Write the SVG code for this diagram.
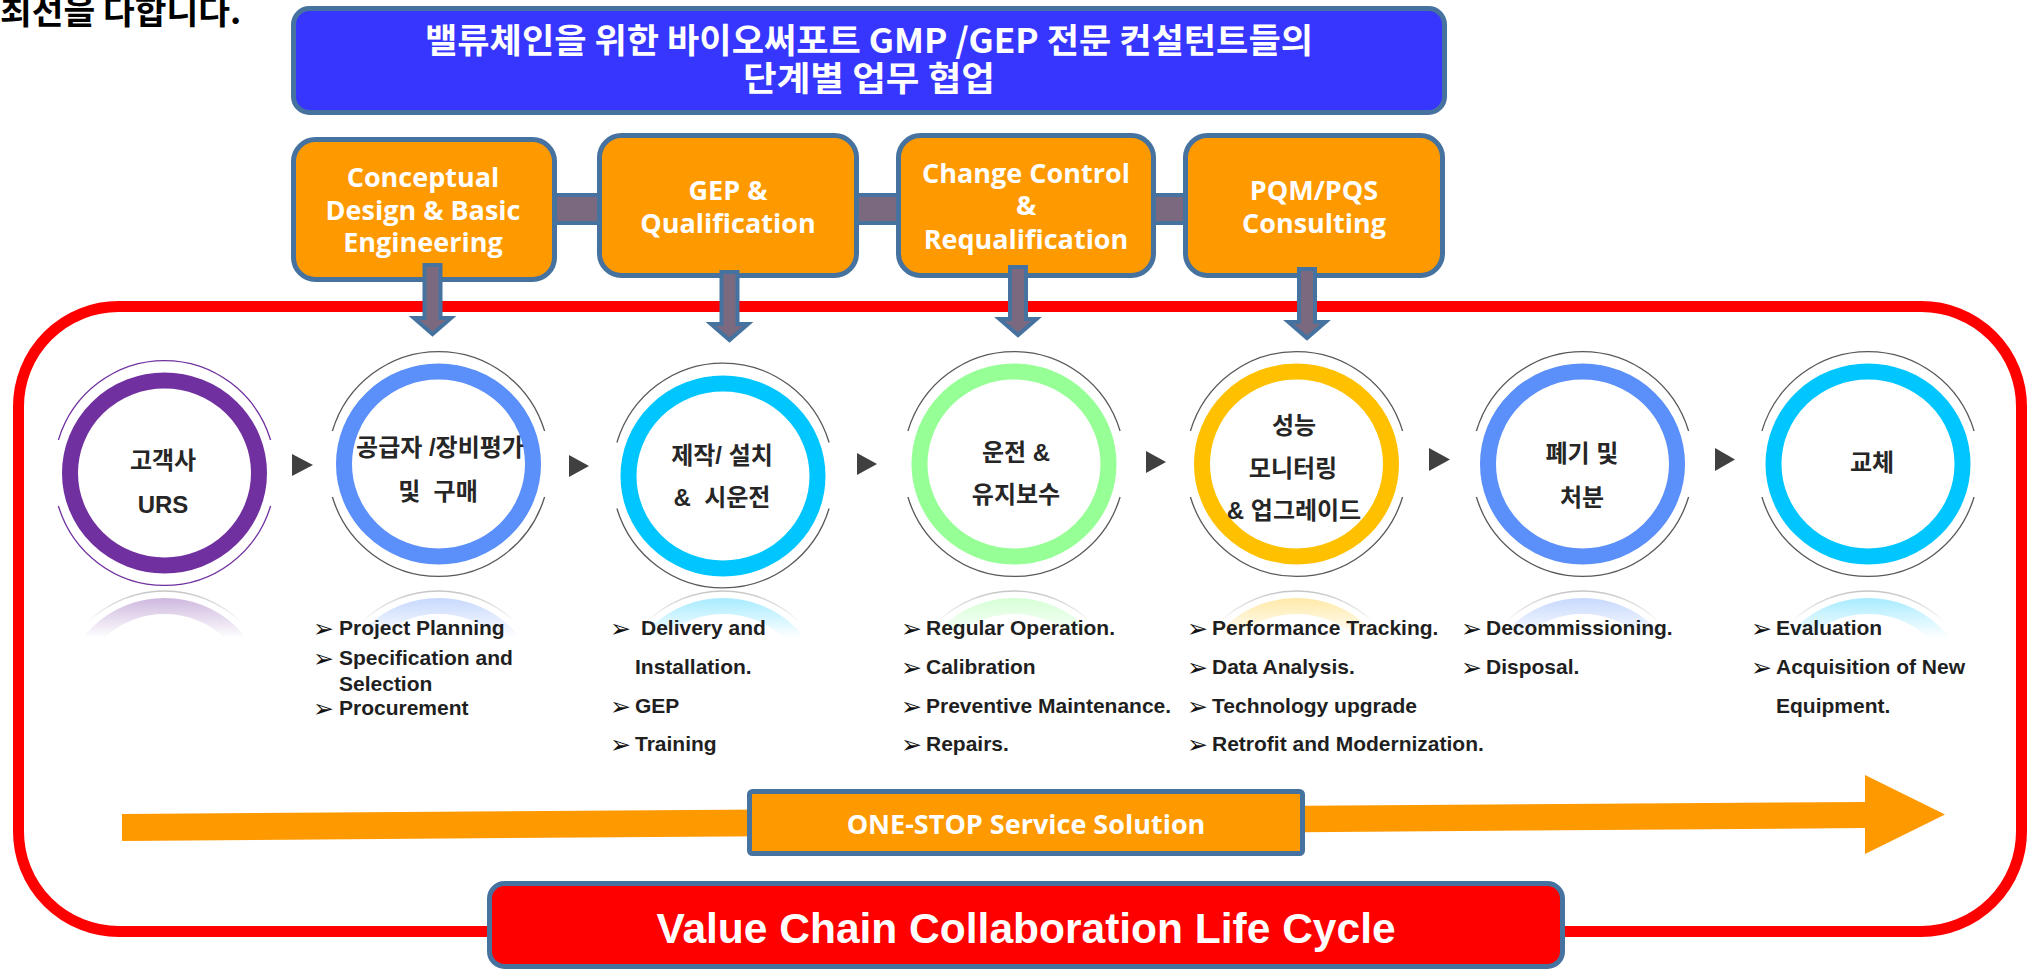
<svg xmlns="http://www.w3.org/2000/svg" width="2028" height="969" viewBox="0 0 2028 969">
<style>
.kt{font-family:"Noto Sans CJK KR",sans-serif;font-weight:700}
.title{font-size:34px;fill:#fff;text-anchor:middle}
.obox{fill:#FF9900;stroke:#4672A0;stroke-width:5}
.otext{font-family:"Open Sans","Noto Sans",sans-serif;font-weight:700;fill:#fff;font-size:27px;text-anchor:middle}
.bar{fill:#7B6A7F;stroke:#4672A0;stroke-width:4}
.darrow{fill:#7B6A7F;stroke:#4672A0;stroke-width:4;stroke-linejoin:miter}
.ring{fill:#fff;stroke-width:16}
.halo{fill:none;stroke-width:1.3}
.refl{fill:none;stroke-width:16}
.reflh{fill:none;stroke-width:1.5;stroke:url(#gHalo)}
.ctext{font-family:"Liberation Sans","Noto Sans CJK KR",sans-serif;font-weight:700;fill:#262626;font-size:24px;text-anchor:middle}
.list{font-family:"Liberation Sans",Arial,sans-serif;font-weight:700;fill:#1F1F1F;font-size:21px}
.bul{font-family:"DejaVu Sans",sans-serif;font-size:25px;fill:#111}
.tri{fill:#404040}
</style>
<defs>
<path id="halo" d="M-106.1,-33 A111,112.5 0 0 1 106.1,-33 M-106.1,33 A111,112.5 0 0 0 106.1,33"/>
<linearGradient id="gPurple" gradientUnits="userSpaceOnUse" x1="0" y1="597" x2="0" y2="638"><stop offset="0" stop-color="#7030A0" stop-opacity="0.35"/><stop offset="1" stop-color="#7030A0" stop-opacity="0"/></linearGradient>
<linearGradient id="gBlue" gradientUnits="userSpaceOnUse" x1="0" y1="597" x2="0" y2="638"><stop offset="0" stop-color="#5B8FF9" stop-opacity="0.35"/><stop offset="1" stop-color="#5B8FF9" stop-opacity="0"/></linearGradient>
<linearGradient id="gCyan" gradientUnits="userSpaceOnUse" x1="0" y1="597" x2="0" y2="638"><stop offset="0" stop-color="#00C6FF" stop-opacity="0.35"/><stop offset="1" stop-color="#00C6FF" stop-opacity="0"/></linearGradient>
<linearGradient id="gGreen" gradientUnits="userSpaceOnUse" x1="0" y1="597" x2="0" y2="638"><stop offset="0" stop-color="#96FF96" stop-opacity="0.4"/><stop offset="1" stop-color="#96FF96" stop-opacity="0"/></linearGradient>
<linearGradient id="gAmber" gradientUnits="userSpaceOnUse" x1="0" y1="597" x2="0" y2="638"><stop offset="0" stop-color="#FFC000" stop-opacity="0.35"/><stop offset="1" stop-color="#FFC000" stop-opacity="0"/></linearGradient>
<linearGradient id="gHalo" gradientUnits="userSpaceOnUse" x1="0" y1="589" x2="0" y2="622"><stop offset="0" stop-color="#999" stop-opacity="0.6"/><stop offset="1" stop-color="#999" stop-opacity="0"/></linearGradient>
</defs>
<rect width="2028" height="969" fill="#fff"/>

<text class="kt" x="0" y="24" font-size="34.5" fill="#000">최선을 다합니다.</text>

<!-- lifecycle frame -->
<rect id="frame" x="18.5" y="306.5" width="2003" height="625" rx="100" ry="100" fill="none" stroke="#FF0000" stroke-width="11"/>

<!-- title -->
<g id="title">
<rect x="293.5" y="8.5" width="1151" height="104" rx="16" ry="16" fill="#3636FF" stroke="#4672A0" stroke-width="5"/>
<text class="kt title" x="869" y="53" textLength="888" lengthAdjust="spacingAndGlyphs">밸류체인을 위한 바이오써포트 GMP /GEP 전문 컨설턴트들의</text>
<text class="kt title" x="869" y="91" textLength="252" lengthAdjust="spacingAndGlyphs">단계별 업무 협업</text>
</g>

<!-- connectors -->
<g id="connectors">
<rect class="bar" x="553" y="195" width="48" height="28"/>
<rect class="bar" x="855" y="195" width="46" height="28"/>
<rect class="bar" x="1152" y="195" width="36" height="28"/>
<polygon class="tri" points="292,454 313,465 292,476"/>
<polygon class="tri" points="569,455 589,466 569,477"/>
<polygon class="tri" points="857,453 877,464 857,475"/>
<polygon class="tri" points="1146,451 1166,462 1146,473"/>
<polygon class="tri" points="1429,448 1450,459.5 1429,471"/>
<polygon class="tri" points="1715,448 1735,459.5 1715,471"/>
<polygon id="onestop-arrow" points="122,814 1865,802 1865,775 1945,814.5 1865,854 1865,828 122,841" fill="#FF9900"/>
</g>

<!-- orange stage boxes -->
<g id="box-conceptual">
<rect class="obox" x="293.5" y="139.5" width="261" height="140" rx="22" ry="22"/>
<text class="otext" x="423" y="187">Conceptual</text>
<text class="otext" x="423" y="220">Design &amp; Basic</text>
<text class="otext" x="423" y="252">Engineering</text>
</g>
<g id="box-gep">
<rect class="obox" x="599.5" y="135.5" width="257" height="140" rx="22" ry="22"/>
<text class="otext" x="728" y="200">GEP &amp;</text>
<text class="otext" x="728" y="233">Qualification</text>
</g>
<g id="box-change">
<rect class="obox" x="898.5" y="135.5" width="255" height="140" rx="22" ry="22"/>
<text class="otext" x="1026" y="183">Change Control</text>
<text class="otext" x="1026" y="215">&amp;</text>
<text class="otext" x="1026" y="249">Requalification</text>
</g>
<g id="box-pqm">
<rect class="obox" x="1185.5" y="135.5" width="257" height="140" rx="22" ry="22"/>
<text class="otext" x="1314" y="200">PQM/PQS</text>
<text class="otext" x="1314" y="233">Consulting</text>
</g>

<!-- down arrows (drawn over boxes and frame) -->
<g id="down-arrows">
<polygon class="darrow" points="424.5,265 440.5,265 440.5,318 451,318 432.5,334 414,318 424.5,318"/>
<polygon class="darrow" points="721.5,272 737.5,272 737.5,324 748,324 729.5,340 711,324 721.5,324"/>
<polygon class="darrow" points="1010,267 1026,267 1026,319 1036.5,319 1018,335 999.5,319 1010,319"/>
<polygon class="darrow" points="1299,269 1315,269 1315,322 1325.5,322 1307,338 1288.5,322 1299,322"/>
</g>

<!-- circles -->
<g id="stage-urs">
<use href="#halo" x="164.5" y="473" class="halo" stroke="#7030A0"/>
<ellipse class="ring" cx="164.5" cy="473" rx="94.5" ry="92.5" stroke="#7030A0"/>
<ellipse class="reflh" cx="164.5" cy="703.5" rx="111" ry="112.5"/>
<ellipse class="refl" cx="164.5" cy="698.5" rx="94.5" ry="92.5" stroke="url(#gPurple)"/>
<text class="ctext" x="163" y="468.5">고객사</text>
<text class="ctext" x="163" y="513">URS</text>
</g>
<g id="stage-supplier">
<use href="#halo" x="438.5" y="464" class="halo" stroke="#595959"/>
<ellipse class="ring" cx="438.5" cy="464" rx="94.5" ry="92.5" stroke="#5B8FF9"/>
<ellipse class="reflh" cx="438.5" cy="703.5" rx="111" ry="112.5"/>
<ellipse class="refl" cx="438.5" cy="698.5" rx="94.5" ry="92.5" stroke="url(#gBlue)"/>
<text class="ctext" x="440" y="455.5" xml:space="preserve">공급자 /장비평가</text>
<text class="ctext" x="438" y="499.5" xml:space="preserve">및  구매</text>
</g>
<g id="stage-install">
<use href="#halo" x="723" y="475.5" class="halo" stroke="#595959"/>
<ellipse class="ring" cx="723" cy="476" rx="94.5" ry="92.5" stroke="#00C6FF"/>
<ellipse class="reflh" cx="723" cy="703.5" rx="111" ry="112.5"/>
<ellipse class="refl" cx="723" cy="698.5" rx="94.5" ry="92.5" stroke="url(#gCyan)"/>
<text class="ctext" x="722" y="463.5">제작/ 설치</text>
<text class="ctext" x="722" y="505.5" xml:space="preserve">&amp;  시운전</text>
</g>
<g id="stage-operation">
<use href="#halo" x="1014" y="464" class="halo" stroke="#595959"/>
<ellipse class="ring" cx="1014" cy="464" rx="94.5" ry="92.5" stroke="#96FF96"/>
<ellipse class="reflh" cx="1014" cy="703.5" rx="111" ry="112.5"/>
<ellipse class="refl" cx="1014" cy="698.5" rx="94.5" ry="92.5" stroke="url(#gGreen)"/>
<text class="ctext" x="1016" y="460.5">운전 &amp;</text>
<text class="ctext" x="1016" y="502.5">유지보수</text>
</g>
<g id="stage-monitoring">
<use href="#halo" x="1296.5" y="464" class="halo" stroke="#595959"/>
<ellipse class="ring" cx="1296.5" cy="464" rx="94.5" ry="92.5" stroke="#FFC000"/>
<ellipse class="reflh" cx="1296.5" cy="703.5" rx="111" ry="112.5"/>
<ellipse class="refl" cx="1296.5" cy="698.5" rx="94.5" ry="92.5" stroke="url(#gAmber)"/>
<text class="ctext" x="1294" y="433.5">성능</text>
<text class="ctext" x="1293" y="476.5">모니터링</text>
<text class="ctext" x="1294" y="519">&amp; 업그레이드</text>
</g>
<g id="stage-disposal">
<use href="#halo" x="1582.5" y="464" class="halo" stroke="#595959"/>
<ellipse class="ring" cx="1582.5" cy="464" rx="94.5" ry="92.5" stroke="#5B8FF9"/>
<ellipse class="reflh" cx="1582.5" cy="703.5" rx="111" ry="112.5"/>
<ellipse class="refl" cx="1582.5" cy="698.5" rx="94.5" ry="92.5" stroke="url(#gBlue)"/>
<text class="ctext" x="1582" y="461.5">폐기 및</text>
<text class="ctext" x="1582" y="505.5">처분</text>
</g>
<g id="stage-replace">
<use href="#halo" x="1868" y="464" class="halo" stroke="#595959"/>
<ellipse class="ring" cx="1868" cy="464" rx="94.5" ry="92.5" stroke="#00C6FF"/>
<ellipse class="reflh" cx="1868" cy="703.5" rx="111" ry="112.5"/>
<ellipse class="refl" cx="1868" cy="698.5" rx="94.5" ry="92.5" stroke="url(#gCyan)"/>
<text class="ctext" x="1872" y="470.5">교체</text>
</g>

<!-- bullet lists -->
<g id="list-supplier">
<text class="bul" x="313" y="637">➢</text><text class="list" x="339" y="635">Project Planning</text>
<text class="bul" x="313" y="667">➢</text><text class="list" x="339" y="665">Specification and</text>
<text class="list" x="339" y="691">Selection</text>
<text class="bul" x="313" y="717">➢</text><text class="list" x="339" y="715">Procurement</text>
</g>
<g id="list-install">
<text class="bul" x="610" y="637">➢</text><text class="list" x="641" y="635">Delivery and</text>
<text class="list" x="635" y="674">Installation.</text>
<text class="bul" x="610" y="715">➢</text><text class="list" x="635" y="713">GEP</text>
<text class="bul" x="610" y="753">➢</text><text class="list" x="635" y="751">Training</text>
</g>
<g id="list-operation">
<text class="bul" x="901" y="637">➢</text><text class="list" x="926" y="635">Regular Operation.</text>
<text class="bul" x="901" y="676">➢</text><text class="list" x="926" y="674">Calibration</text>
<text class="bul" x="901" y="715">➢</text><text class="list" x="926" y="713">Preventive Maintenance.</text>
<text class="bul" x="901" y="753">➢</text><text class="list" x="926" y="751">Repairs.</text>
</g>
<g id="list-monitoring">
<text class="bul" x="1187" y="637">➢</text><text class="list" x="1212" y="635">Performance Tracking.</text>
<text class="bul" x="1187" y="676">➢</text><text class="list" x="1212" y="674">Data Analysis.</text>
<text class="bul" x="1187" y="715">➢</text><text class="list" x="1212" y="713">Technology upgrade</text>
<text class="bul" x="1187" y="753">➢</text><text class="list" x="1212" y="751">Retrofit and Modernization.</text>
</g>
<g id="list-disposal">
<text class="bul" x="1461" y="637">➢</text><text class="list" x="1486" y="635">Decommissioning.</text>
<text class="bul" x="1461" y="676">➢</text><text class="list" x="1486" y="674">Disposal.</text>
</g>
<g id="list-replace">
<text class="bul" x="1751" y="637">➢</text><text class="list" x="1776" y="635">Evaluation</text>
<text class="bul" x="1751" y="676">➢</text><text class="list" x="1776" y="674">Acquisition of New</text>
<text class="list" x="1776" y="713">Equipment.</text>
</g>

<!-- one-stop box -->
<g id="onestop">
<rect x="749.5" y="791.5" width="553" height="62" rx="3" ry="3" fill="#FF9900" stroke="#4672A0" stroke-width="5"/>
<text class="otext" x="1026" y="834">ONE-STOP Service Solution</text>
</g>

<!-- bottom label -->
<g id="lifecycle-label">
<rect x="489.5" y="883.5" width="1073" height="83" rx="15" ry="15" fill="#FF0000" stroke="#4672A0" stroke-width="5"/>
<text x="1026" y="943" font-family="Liberation Sans, Arial, sans-serif" font-weight="700" font-size="42.5" fill="#fff" text-anchor="middle">Value Chain Collaboration Life Cycle</text>
</g>
</svg>
